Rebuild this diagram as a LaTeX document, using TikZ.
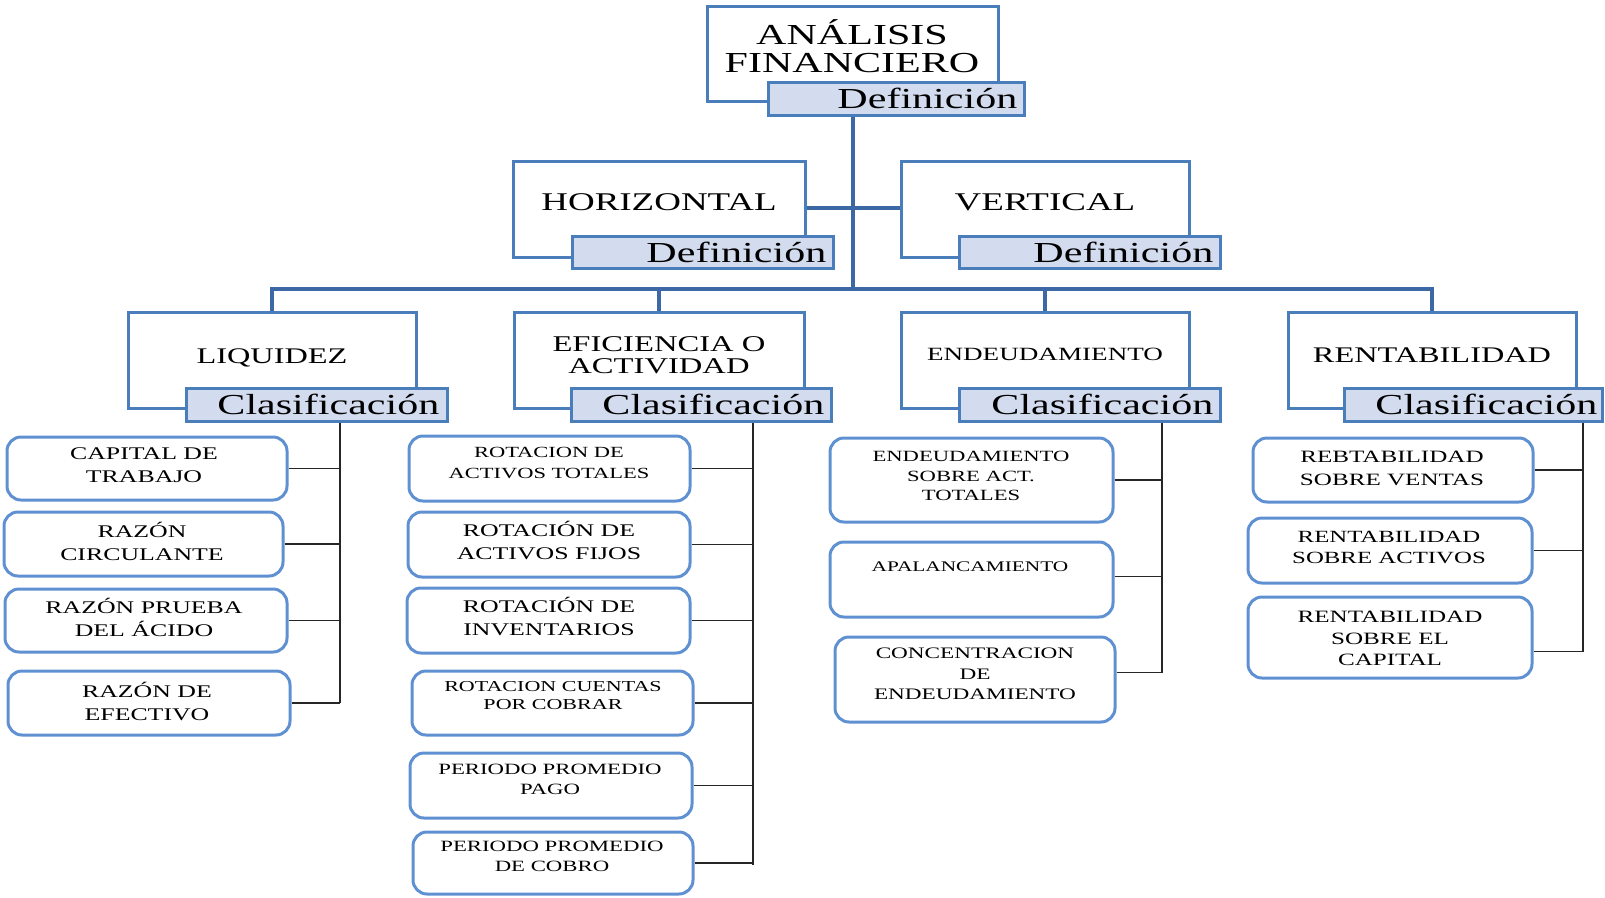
\documentclass[tikz,border=0pt]{standalone}
\usepackage{fontspec}
\setmainfont[FakeStretch=1.45]{Liberation Serif}
\definecolor{boxline}{RGB}{74,126,187}
\definecolor{labfill}{RGB}{211,220,238}
\definecolor{trunkc}{RGB}{60,105,165}
\definecolor{rline}{RGB}{95,145,210}
\tikzset{
  bigbox/.style={draw=boxline, line width=3pt, fill=white, inner sep=0pt},
  labbox/.style={draw=boxline, line width=3pt, fill=labfill, inner sep=0pt},
  rbox/.style={draw=rline, line width=3pt, rounded corners=14pt, fill=white, inner sep=0pt},
  trunk/.style={draw=trunkc, line width=4pt},
  conn/.style={draw=black!85, line width=1.8pt},
  labtxt/.style={anchor=east, inner sep=0pt, font=\fontsize{29}{30}\selectfont},
  txt/.style={inner sep=0pt, align=center},
  bigL/.style={txt, font=\fontsize{17.8}{23}\selectfont},
  smallS/.style={txt, font=\fontsize{15.5}{20.5}\selectfont},
}
% rectangle node from its corner coordinates: style, name, x1, y1, x2, y2
\newcommand\bx[6]{\node[#1, minimum width={#5pt-#3pt}, minimum height={#6pt-#4pt}]
  (#2) at ({(#3+#5)/2},{(#4+#6)/2}) {};}
\begin{document}
\begin{tikzpicture}[x=1pt, y=-1pt]
\useasboundingbox (0,0) rectangle (1605,897);

% ---- main boxes with their tabs ----
\bx{bigbox}{top}{707}{6}{998}{101}
\bx{labbox}{topd}{768}{82}{1024}{115}
\bx{bigbox}{hor}{513}{161}{805}{257}
\bx{labbox}{hord}{572}{236}{833}{268}
\bx{bigbox}{ver}{901}{161}{1189}{257}
\bx{labbox}{verd}{959}{236}{1220}{268}
\bx{bigbox}{liq}{128}{312}{416}{408}
\bx{labbox}{liqd}{186}{388}{447}{421}
\bx{bigbox}{efi}{514}{312}{804}{408}
\bx{labbox}{efid}{571}{388}{831}{421}
\bx{bigbox}{end}{901}{312}{1189}{408}
\bx{labbox}{endd}{959}{388}{1220}{421}
\bx{bigbox}{ren}{1288}{312}{1576}{408}
\bx{labbox}{rend}{1344}{388}{1602}{421}

\node[txt, font=\fontsize{29}{28}\selectfont] (topt) at (852,46.5) {ANÁLISIS\\FINANCIERO};
\node[txt, font=\fontsize{25.5}{26}\selectfont] (hort) at (659,202) {HORIZONTAL};
\node[txt, font=\fontsize{25.5}{26}\selectfont] (vert) at (1045,202) {VERTICAL};
\node[txt, font=\fontsize{22.3}{22}\selectfont] (liqt) at (272,357.5) {LIQUIDEZ};
\node[txt, font=\fontsize{22.5}{22}\selectfont] (efit) at (659,355) {EFICIENCIA O\\ACTIVIDAD};
\node[txt, font=\fontsize{18.7}{20}\selectfont] (endt) at (1045,354) {ENDEUDAMIENTO};
\node[txt, font=\fontsize{22.3}{22}\selectfont] (rent) at (1432,355.5) {RENTABILIDAD};

\node[labtxt] (topdt) at ([xshift=-8pt]topd.east) {Definición};
\node[labtxt] (hordt) at ([xshift=-8pt]hord.east) {Definición};
\node[labtxt] (verdt) at ([xshift=-8pt]verd.east) {Definición};
\node[labtxt] (liqdt) at ([xshift=-9pt]liqd.east) {Clasificación};
\node[labtxt] (efidt) at ([xshift=-8pt]efid.east) {Clasificación};
\node[labtxt] (enddt) at ([xshift=-8pt]endd.east) {Clasificación};
\node[labtxt] (rendt) at ([xshift=-6pt]rend.east) {Clasificación};

% ---- blue trunk and bus ----
\coordinate (bus) at (853,289);
\coordinate (hv) at (853,208);
\draw[trunk] (top.south |- topd.south) -- (top.south |- bus);
\draw[trunk] (hor.east |- hv) -- (ver.west |- hv);
\draw[trunk] (liq.north) |- (bus) -| (ren.north);
\draw[trunk] (efi.north) -- (efi.north |- bus);
\draw[trunk] (end.north) -- (end.north |- bus);

% ---- LIQUIDEZ ----
\bx{rbox}{l1}{7}{437}{287}{500}
\bx{rbox}{l2}{4}{512}{283}{576}
\bx{rbox}{l3}{5}{589}{287}{652}
\bx{rbox}{l4}{8}{671}{290}{735}
\node[bigL] (l1t) at (144,465.5) {CAPITAL DE\\TRABAJO};
\node[bigL] (l2t) at (142,541) {RAZÓN\\CIRCULANTE};
\node[bigL] (l3t) at (144,617.5) {RAZÓN PRUEBA\\DEL ÁCIDO};
\node[bigL] (l4t) at (147,701) {RAZÓN DE\\EFECTIVO};
\coordinate (lx) at (340,703);
\draw[conn] (liqd.south -| lx) -- (lx);
\foreach \n in {l1,l2,l3,l4} \draw[conn] (\n.east) -- (\n.east -| lx);

% ---- EFICIENCIA O ACTIVIDAD ----
\bx{rbox}{e1}{409}{436}{690}{501}
\bx{rbox}{e2}{408}{512}{690}{577}
\bx{rbox}{e3}{407}{588}{690}{653}
\bx{rbox}{e4}{412}{671}{693}{735}
\bx{rbox}{e5}{410}{753}{692}{818}
\bx{rbox}{e6}{413}{832}{693}{894}
\node[smallS, font=\fontsize{15.5}{21}\selectfont] (e1t) at (549,462.5) {ROTACION DE\\ACTIVOS TOTALES};
\node[bigL] (e2t) at (549,540) {ROTACIÓN DE\\ACTIVOS FIJOS};
\node[bigL] (e3t) at (549,616.5) {ROTACIÓN DE\\INVENTARIOS};
\node[smallS, font=\fontsize{15.2}{18}\selectfont] (e4t) at (553,696) {ROTACION CUENTAS\\POR COBRAR};
\node[smallS, font=\fontsize{15.7}{19.5}\selectfont] (e5t) at (550,779.5) {PERIODO PROMEDIO\\PAGO};
\node[smallS, font=\fontsize{15.7}{19.5}\selectfont] (e6t) at (552,856.5) {PERIODO PROMEDIO\\DE COBRO};
\coordinate (ex) at (753,865);
\draw[conn] (efid.south -| ex) -- (ex);
\foreach \n in {e1,e2,e3,e4,e5,e6} \draw[conn] (\n.east) -- (\n.east -| ex);

% ---- ENDEUDAMIENTO ----
\bx{rbox}{d1}{830}{438}{1113}{522}
\bx{rbox}{d2}{830}{542}{1113}{617}
\bx{rbox}{d3}{835}{637}{1115}{722}
\node[smallS, font=\fontsize{15.6}{19.5}\selectfont] (d1t) at (971,476) {ENDEUDAMIENTO\\SOBRE ACT.\\TOTALES};
\node[smallS, font=\fontsize{14.7}{19}\selectfont] (d2t) at (970,567) {APALANCAMIENTO};
\node[smallS, font=\fontsize{16}{20.5}\selectfont] (d3t) at (975,674) {CONCENTRACION\\DE\\ENDEUDAMIENTO};
\coordinate (dx) at (1162,673);
\draw[conn] (endd.south -| dx) -- (dx);
\draw[conn] (d1.east) -- (d1.east -| dx);
\draw[conn] ([yshift=3pt]d2.east) -- ([yshift=3pt]d2.east -| dx);
\draw[conn] ([yshift=7pt]d3.east) -- ([yshift=7pt]d3.east -| dx);

% ---- RENTABILIDAD ----
\bx{rbox}{r1}{1253}{438}{1533}{502}
\bx{rbox}{r2}{1248}{518}{1532}{583}
\bx{rbox}{r3}{1248}{597}{1532}{678}
\node[txt, font=\fontsize{17.3}{23}\selectfont] (r1t) at (1392,468.5) {REBTABILIDAD\\SOBRE VENTAS};
\node[txt, font=\fontsize{17.1}{21.5}\selectfont] (r2t) at (1389,547.5) {RENTABILIDAD\\SOBRE ACTIVOS};
\node[txt, font=\fontsize{17.3}{21.5}\selectfont] (r3t) at (1390,638.5) {RENTABILIDAD\\SOBRE EL\\CAPITAL};
\coordinate (rx) at (1583,652);
\draw[conn] (rend.south -| rx) -- (rx);
\draw[conn] (r1.east) -- (r1.east -| rx);
\draw[conn] (r2.east) -- (r2.east -| rx);
\draw[conn] ([yshift=-14pt]r3.east) -- ([yshift=-14pt]r3.east -| rx);
\end{tikzpicture}
\end{document}
